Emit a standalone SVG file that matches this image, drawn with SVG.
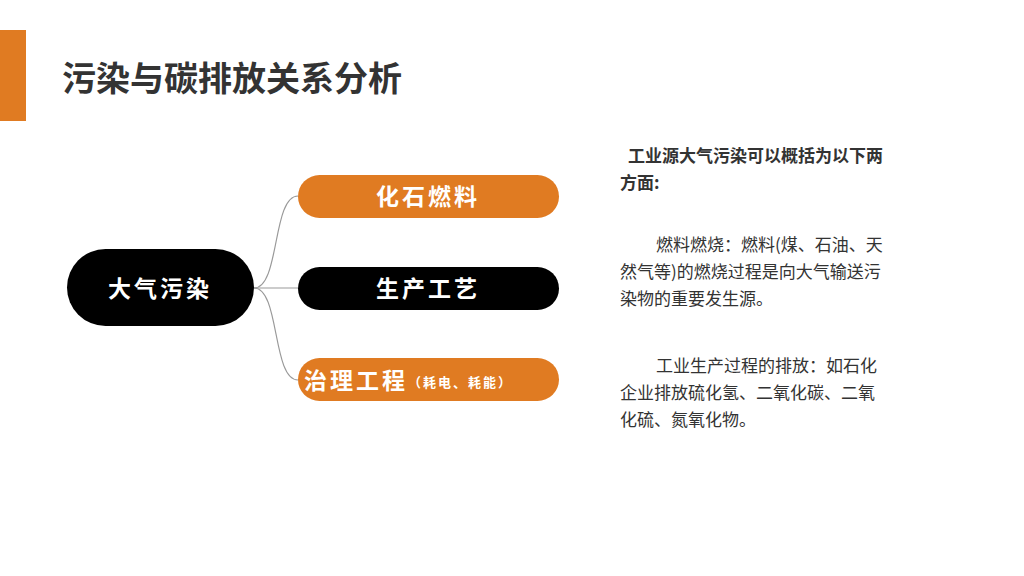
<svg xmlns="http://www.w3.org/2000/svg" width="1024" height="576" viewBox="0 0 1024 576">
<style>
.t{font-family:"Noto Sans CJK SC","Noto Sans",sans-serif}
.n{font-family:"Noto Sans CJK SC",sans-serif;font-weight:bold;fill:#fff;font-size:23px;letter-spacing:3px}
.p{font-family:"Noto Sans CJK SC",sans-serif;font-size:17px;fill:#333}
.c{fill:none;stroke:#999;stroke-width:1.2}
</style>
<rect width="1024" height="576" fill="#fff"/>
<rect x="0" y="30" width="26" height="91" fill="#e07b22"/>
<text class="t" x="62" y="91" font-size="34" font-weight="bold" fill="#333">污染与碳排放关系分析</text>
<g id="connectors">
<path class="c" d="M254,288 C280,288 272,196 298,196"/>
<path class="c" d="M254,288 L298,288"/>
<path class="c" d="M254,288 C280,288 272,380 298,380"/>
</g>
<g id="n0"><rect x="67" y="249" width="187" height="77" rx="38.5" fill="#000"/><text class="n" x="160" y="297" text-anchor="middle">大气污染</text></g>
<g id="n1"><rect x="298" y="175" width="261" height="43" rx="21.5" fill="#e07b22"/><text class="n" x="428" y="205" text-anchor="middle">化石燃料</text></g>
<g id="n2"><rect x="298" y="267" width="261" height="43" rx="21.5" fill="#000"/><text class="n" x="428" y="297" text-anchor="middle">生产工艺</text></g>
<g id="n3"><rect x="298" y="358" width="261" height="43" rx="21.5" fill="#e07b22"/><text class="n" x="304" y="389">治理工程<tspan font-size="13" letter-spacing="2" dy="-2">（耗电、耗能）</tspan></text></g>
<g id="text">
<text class="p" x="628" y="162" font-weight="bold" fill="#000">工业源大气污染可以概括为以下两</text>
<text class="p" x="620" y="189" font-weight="bold" fill="#000">方面:</text>
<text class="p" x="656" y="251">燃料燃烧：燃料(煤、石油、天</text>
<text class="p" x="620" y="278">然气等)的燃烧过程是向大气输送污</text>
<text class="p" x="620" y="305">染物的重要发生源。</text>
<text class="p" x="656" y="372">工业生产过程的排放：如石化</text>
<text class="p" x="620" y="399">企业排放硫化氢、二氧化碳、二氧</text>
<text class="p" x="620" y="426">化硫、氮氧化物。</text>
</g>
</svg>
